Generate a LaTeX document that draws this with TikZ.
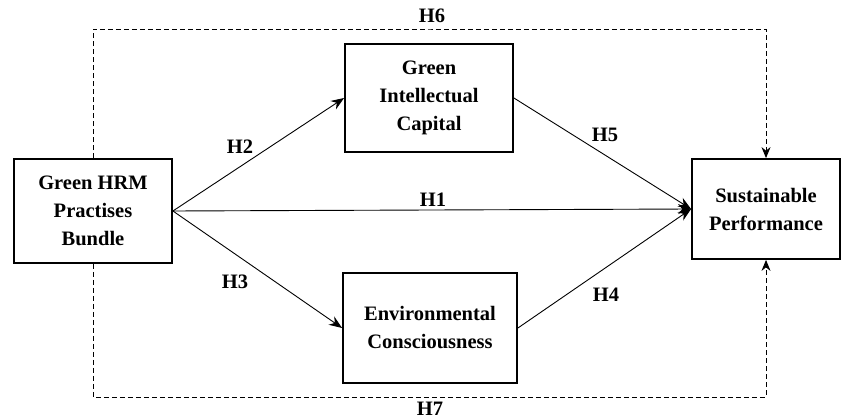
\documentclass[tikz,border=0pt]{standalone}
\usepackage{fontspec}
\setmainfont{Liberation Serif}
\usepackage{tikz}
\usetikzlibrary{arrows.meta,positioning}

\tikzset{
  construct/.style={draw,line width=1.8pt,align=center,inner sep=0pt},
  hyp/.style={font=\fontsize{20.5}{24}\selectfont\bfseries},
  path/.style={line width=0.9pt,-{Stealth[length=13pt,width=10pt]}},
  indirect/.style={line width=0.9pt,dash pattern=on 5pt off 3pt,-{Stealth[length=11pt,width=9pt]}}
}

\begin{document}
\begin{tikzpicture}[x=1pt,y=-1pt,font=\fontsize{20.5}{28}\selectfont\bfseries]
        % frame of the reference picture (pixel units)
        \useasboundingbox (0,0) rectangle (842,419);
        % the four constructs
        \node[construct,minimum width=158pt,minimum height=104pt] (hrm) at (93,211) {Green HRM\\ Practises\\ Bundle};
        \node[construct,minimum width=168pt,minimum height=108pt] (gic) at (429,98) {Green\\ Intellectual\\ Capital};
        \node[construct,minimum width=174pt,minimum height=110pt] (env) at (430,328) {Environmental\\ Consciousness};
        \node[construct,minimum width=148pt,minimum height=100pt] (sp) at (766,209) {Sustainable\\ Performance};
        % direct and mediated paths
        \draw[path] (hrm.east) -- (gic.west);
        \draw[path] (hrm.east) -- (env.west);
        \draw[path] (hrm.east) -- (sp.west);
        \draw[path] (gic.east) -- (sp.west);
        \draw[path] (env.east) -- (sp.west);
        % indirect effects round the outside
        \coordinate (top) at (430,29);
        \coordinate (bottom) at (430,397);
        \draw[indirect] (hrm.north) |- (top) -| (sp.north);
        \draw[indirect] (hrm.south) |- (bottom) -| (sp.south);
        % hypothesis labels
        \node[hyp] (h1) at (433,200) {H1};
        \node[hyp] (h2) at (240,147) {H2};
        \node[hyp] (h3) at (235,282) {H3};
        \node[hyp] (h4) at (606,295) {H4};
        \node[hyp] (h5) at (605,135) {H5};
        \node[hyp] (h6) at (432,16) {H6};
        \node[hyp] (h7) at (430,409) {H7};
      \end{tikzpicture}
\end{document}
